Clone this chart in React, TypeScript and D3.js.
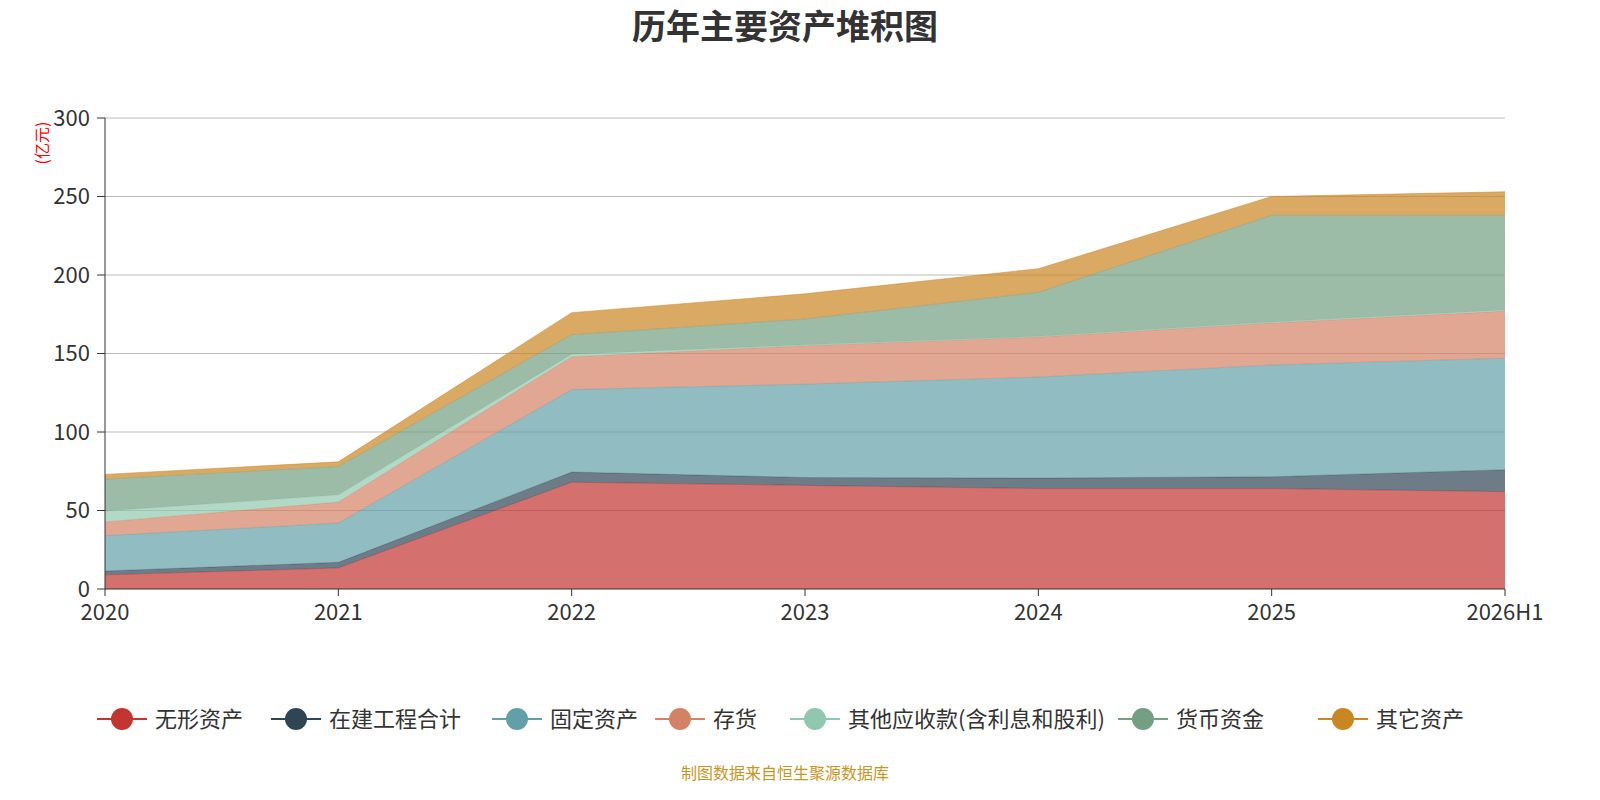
import React from "react";
import * as d3 from "d3";

const categories = ["2020", "2021", "2022", "2023", "2024", "2025", "2026H1"];
const seriesNames = ["无形资产", "在建工程合计", "固定资产", "存货", "其他应收款(含利息和股利)", "货币资金", "其它资产"];
const colors = ["#c23531", "#2f4554", "#61a0a8", "#d48265", "#91c7ae", "#749f83", "#ca8622"];
const intangible = [9, 13.4, 68, 66, 64, 64, 62];
const construction = [2.5, 3.6, 6.5, 5, 6.7, 7.5, 14];
const fixed = [22.5, 25, 52.5, 59.5, 64.3, 71.2, 71];
const inventory = [8.7, 13.4, 21, 24.5, 25.5, 26.7, 30];
const otherRec = [7, 4.6, 1.5, 0.5, 0.5, 0.6, 0.7];
const cash = [20.3, 18, 12.5, 16.5, 28, 68, 60.3];
const otherAssets = [3, 3, 14, 16, 15, 12, 15];
const yTicks = [0, 50, 100, 150, 200, 250, 300];
const legendX = [97, 271, 492, 655, 790, 1118, 1318];

const allSeries = [intangible, construction, fixed, inventory, otherRec, cash, otherAssets];

export default function App() {
  const W = 1600, H = 800;
  const x = d3.scalePoint<string>().domain(categories).range([105, 1505]);
  const y = d3.scaleLinear().domain([0, 300]).range([589, 118]);
  const table = categories.map((c, i) => {
    const o: any = { cat: c };
    seriesNames.forEach((n, s) => (o[n] = allSeries[s][i]));
    return o;
  });
  const stacked = d3.stack<any>().keys(seriesNames)(table);
  const area = d3.area<any>().x((d) => x(d.data.cat)!).y0((d) => y(d[0])).y1((d) => y(d[1]));
  const line = d3.line<any>().x((d) => x(d.data.cat)!).y((d) => y(d[1]));
  const font = "'Noto Sans CJK SC', 'Noto Sans', sans-serif";
  return (
    <svg width={W} height={H} style={{ display: "block", position: "absolute", left: 0, top: 0 }} fontFamily={font}>
      <rect width={W} height={H} fill="#fff" />
      <text x={785} y={39} textAnchor="middle" fontSize={34} fontWeight="bold" fill="#333">历年主要资产堆积图</text>
      {yTicks.map((t) => (
        <g key={t}>
          {t > 0 && <line x1={105} x2={1505} y1={y(t)} y2={y(t)} stroke="#bbb" strokeWidth={1.2} />}
          <line x1={97} x2={105} y1={y(t)} y2={y(t)} stroke="#333" />
          <text x={90} y={y(t)} dy="0.35em" textAnchor="end" fontSize={22} fill="#333">{t}</text>
        </g>
      ))}
      <text transform="translate(48,143) rotate(-90)" textAnchor="middle" fontSize={16} fill="red">(亿元)</text>
      {stacked.map((s, i) => (
        <g key={i}>
          <path d={area(s)!} fill={colors[i]} fillOpacity={0.7} />
          <path d={line(s)!} fill="none" stroke={colors[i]} strokeOpacity={0.5} strokeWidth={1} />
        </g>
      ))}
      <line x1={105} x2={105} y1={118} y2={589} stroke="#333" />
      <line x1={105} x2={1505} y1={589} y2={589} stroke="#333" />
      {categories.map((c) => (
        <g key={c}>
          <line x1={x(c)} x2={x(c)} y1={589} y2={596} stroke="#333" />
          <text x={x(c)} y={620} textAnchor="middle" fontSize={22} fill="#333">{c}</text>
        </g>
      ))}
      {seriesNames.map((n, i) => (
        <g key={n} transform={`translate(${legendX[i]},719)`}>
          <line x1={0} x2={50} y1={0} y2={0} stroke={colors[i]} strokeWidth={2} />
          <circle cx={25} cy={0} r={11} fill={colors[i]} />
          <text x={58} y={0} dy="0.35em" fontSize={22} fill="#333">{n}</text>
        </g>
      ))}
      <text x={785} y={779} textAnchor="middle" fontSize={16} fill="#c8961e">制图数据来自恒生聚源数据库</text>
    </svg>
  );
}
